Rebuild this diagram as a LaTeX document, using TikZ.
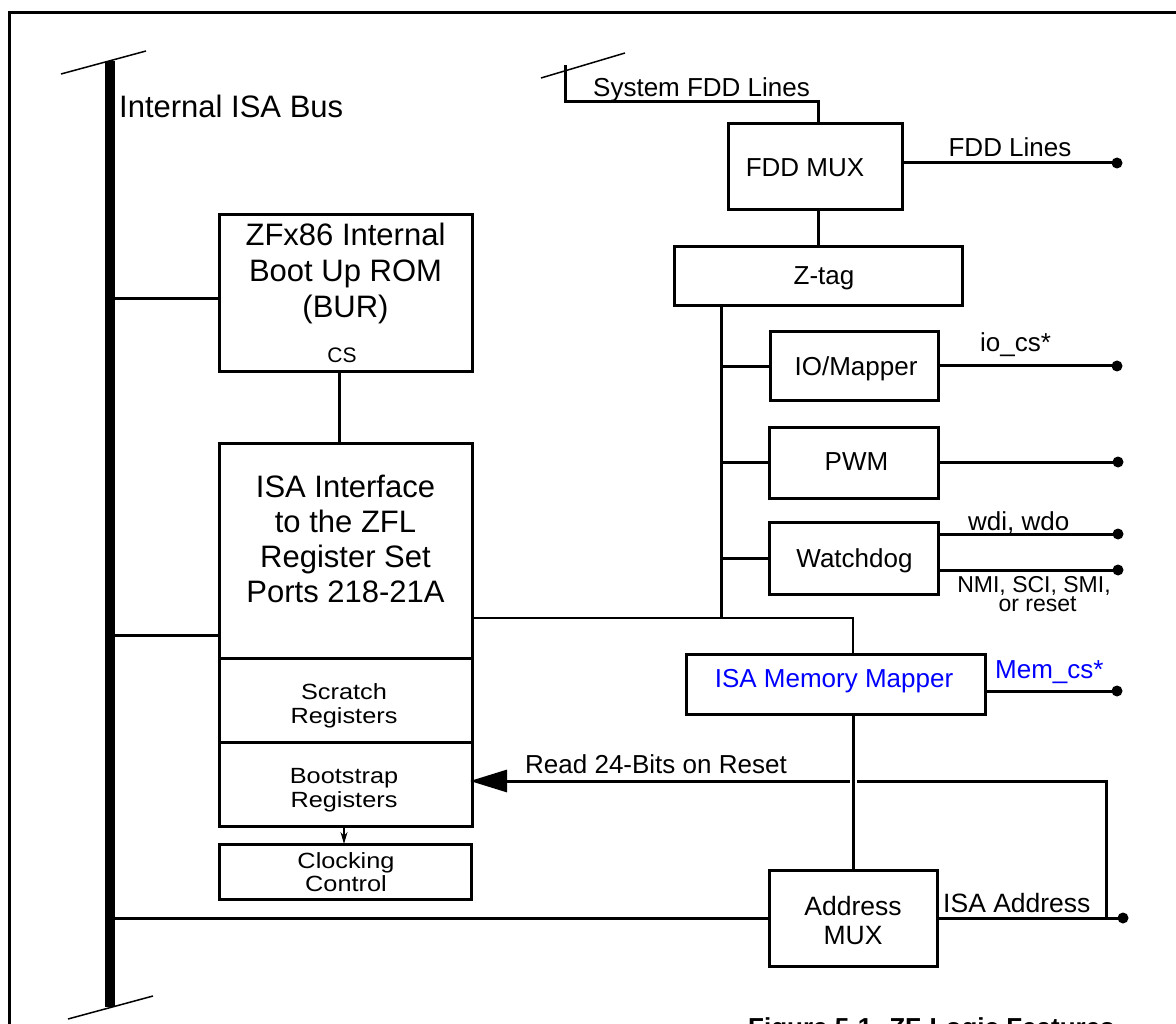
\documentclass[tikz,border=0pt]{standalone}
\usepackage{fontspec}
\setmainfont{Liberation Sans}
\newfontfamily\widefont[FakeStretch=1.15]{Liberation Sans}
\usetikzlibrary{arrows.meta}
\newcommand\myfs[1]{\fontsize{#1}{#1}\selectfont}
\begin{document}
\begin{tikzpicture}[x=1pt,y=-1pt,
  box/.style={draw, line width=3pt, inner sep=0pt, outer sep=0pt},
  wire/.style={line width=3pt},
  thinline/.style={line width=1.5pt},
  lbl/.style={inner sep=0pt, anchor=base},
  lblw/.style={inner sep=0pt, anchor=base west},
  big/.style={font=\myfs{31}},
  mid/.style={font=\myfs{26}},
  sml/.style={font=\widefont\myfs{22}},
  bluetxt/.style={text={rgb,255:red,0;green,0;blue,255}}]
\useasboundingbox (0,0) rectangle (1176,1024);

% frame
\coordinate (fr1) at (9,1030);
\coordinate (fr2) at (9,13);
\coordinate (fr3) at (1180,13);
\draw[wire] (fr1) -- (fr2) -- (fr3);

% ISA bus
\coordinate (busT) at (110,61);
\coordinate (busB) at (110,1007);
\draw[line width=10pt] (busT) -- (busB);
\coordinate (sl1a) at (61,74);  \coordinate (sl1b) at (146,51);
\coordinate (sl2a) at (68,1019); \coordinate (sl2b) at (153,996);
\draw[thinline] (sl1a) -- (sl1b);
\draw[thinline] (sl2a) -- (sl2b);
\node[lblw, big] (busl) at (119,118) {Internal ISA Bus};

% left column boxes
\node[box, minimum width=253pt, minimum height=157pt] (bur) at (345.5,293.5) {};
\node[box, minimum width=253pt, minimum height=215pt] (isaif) at (345.5,550.5) {};
\node[box, minimum width=253pt, minimum height=84pt] (scr) at (345.5,700) {};
\node[box, minimum width=253pt, minimum height=84pt] (boot) at (345.5,784) {};
\node[box, minimum width=252pt, minimum height=55pt] (clk) at (345,871.5) {};

\node[lbl, big] (burA) at (345.5,246) {ZFx86 Internal};
\node[lbl, big] (burB) at (345.5,282) {Boot Up ROM};
\node[lbl, big] (burC) at (345.5,318) {(BUR)};
\node[lbl, font=\myfs{21}] (burCS) at (342,362.5) {CS};

\node[lbl, big] (ifA) at (345.5,497) {ISA Interface};
\node[lbl, big] (ifB) at (345.5,532) {to the ZFL};
\node[lbl, big] (ifC) at (345.5,567) {Register Set};
\node[lbl, big] (ifD) at (345.5,602) {Ports 218-21A};

\node[lbl, sml] (scrA) at (344,699) {Scratch};
\node[lbl, sml] (scrB) at (344,723) {Registers};
\node[lbl, sml] (bootA) at (344,783) {Bootstrap};
\node[lbl, sml] (bootB) at (344,807) {Registers};
\node[lbl, sml] (clkA) at (346,868) {Clocking};
\node[lbl, sml] (clkB) at (346,891) {Control};

% right side boxes
\node[box, minimum width=174pt, minimum height=86pt] (fddmux) at (815,167) {};
\node[box, minimum width=288pt, minimum height=59pt] (ztag) at (818,276.5) {};
\node[box, minimum width=168pt, minimum height=69pt] (iomap) at (854,366.5) {};
\node[box, minimum width=169pt, minimum height=71pt] (pwm) at (853.5,462.5) {};
\node[box, minimum width=169pt, minimum height=72pt] (wdog) at (853.5,558) {};
\node[box, minimum width=299pt, minimum height=60pt] (memmap) at (835.5,684) {};
\node[box, minimum width=168pt, minimum height=96pt] (amux) at (853,918) {};

\node[lbl, mid] (fddT) at (805,176.5) {FDD MUX};
\node[lbl, mid] (ztagT) at (824,284.5) {Z-tag};
\node[lbl, mid] (iomapT) at (856,376) {IO/Mapper};
\node[lbl, mid] (pwmT) at (856.5,470) {PWM};
\node[lbl, mid] (wdogT) at (854.5,567) {Watchdog};
\node[lbl, mid, bluetxt] (memT) at (834,687.5) {ISA Memory Mapper};
\node[lbl, font=\myfs{26.5}] (amuxA) at (853,915.5) {Address};
\node[lbl, font=\myfs{26.5}] (amuxB) at (853,944) {MUX};

% bus taps
\coordinate (t1) at (110,299);
\coordinate (t2) at (110,635);
\coordinate (t3) at (110,918);
\draw[wire] (t1) -- (t1 -| bur.west);
\draw[wire] (t2) -- (t2 -| isaif.west);
\draw[wire] (t3) -- (t3 -| amux.west);
\draw[wire] ([xshift=-6.5pt]bur.south) -- ([xshift=-6.5pt]isaif.north);
\draw[line width=1.5pt, -{Stealth[length=12pt,width=7pt]}] ([xshift=-1.5pt]boot.south) -- ([xshift=-1pt]clk.north);

% system FDD lines
\coordinate (fs1) at (565,65);
\coordinate (fs2) at (565,102);
\coordinate (sl3a) at (541,78); \coordinate (sl3b) at (625,53);
\draw[thinline] (sl3a) -- (sl3b);
\draw[wire] (fs1) -- (fs2) -- (fs2 -| ztag.north) -- (ztag.north |- fddmux.north);
\node[lblw, mid] (sysT) at (593,96.5) {System FDD Lines};
\draw[wire] (ztag.north |- fddmux.south) -- (ztag.north);

% trunk from Z-tag
\coordinate (tjT) at (721,306);
\coordinate (tjB) at (721,618);
\draw[wire] (tjT) -- (tjB);
\draw[wire] (tjB |- iomap.west) -- (iomap.west);
\draw[wire] (tjB |- pwm.west) -- (pwm.west);
\draw[wire] (tjB |- wdog.west) -- (wdog.west);

% ISA interface to memory mapper
\coordinate (mj) at (853,618);
\draw[line width=2pt] (isaif.east |- mj) -- (mj) -- (mj |- memmap.north);
\draw[wire] (amux.north |- memmap.south) -- (amux.north);

% outputs with dots
\coordinate (d1) at (1117,163);
\coordinate (d2) at (1117,366);
\coordinate (d3) at (1118,462);
\coordinate (d4) at (1118,534);
\coordinate (d5) at (1118,570);
\coordinate (d6) at (1117,691);
\coordinate (d7) at (1123,918);
\draw[wire] (d1 -| fddmux.east) -- (d1);
\draw[wire] (d2 -| iomap.east) -- (d2);
\draw[wire] (d3 -| pwm.east) -- (d3);
\draw[wire] (d4 -| wdog.east) -- (d4);
\draw[wire] (d5 -| wdog.east) -- (d5);
\draw[wire] (d6 -| memmap.east) -- (d6);
\draw[wire] (amux.east) -- (d7);
\foreach \d in {d1,d2,d3,d4,d5,d6,d7} \fill (\d) circle (5.5pt);

\node[lbl, mid] (fddL) at (1010,156.5) {FDD Lines};
\node[lblw, mid] (iocs) at (980,352) {io\_cs*};
\node[lblw, mid] (wdi) at (968,530) {wdi, wdo};
\node[lbl, font=\myfs{23}] (nmiA) at (1034,592) {NMI, SCI, SMI,};
\node[lbl, font=\myfs{23}] (nmiB) at (1037.5,611) {or reset};
\node[lblw, mid, bluetxt] (memcs) at (995,678) {Mem\_cs*};
\node[lblw, font=\myfs{26.5}] (isaadr) at (943,912) {ISA Address};

% read 24 bits on reset
\coordinate (rb) at (1106,918);
\coordinate (rr) at (1106,781);
\coordinate (gapR) at (857,781);
\coordinate (gapL) at (850,781);
\draw[wire] (rb) -- (rr) -- (gapR);
\draw[wire, -{Triangle[length=37pt,width=22pt]}, shorten >=-2pt] (gapL) -- (boot.east |- gapL);
\node[lblw, mid] (readT) at (525,773) {Read 24-Bits on Reset};

% caption
\node[lblw, font=\bfseries\myfs{26}] (cap) at (748,1036) {Figure 5-1. ZF-Logic Features};
\end{tikzpicture}
\end{document}
